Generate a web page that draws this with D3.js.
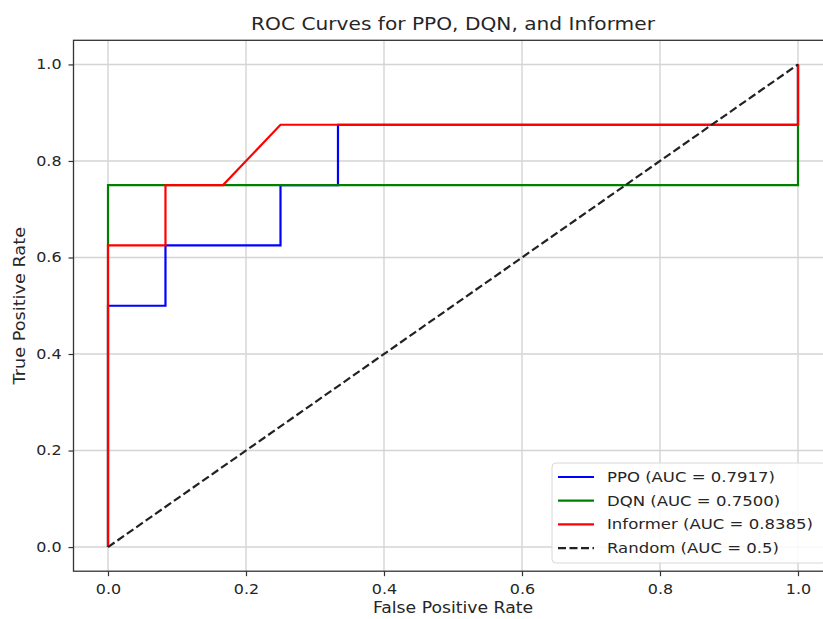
<!DOCTYPE html>
<html>
<head>
<meta charset="utf-8">
<script src="https://cdn.jsdelivr.net/npm/d3@7"></script>
<style>
  body { margin: 0; background: #fff; }
  text { font-family: "DejaVu Sans", sans-serif; fill: #262626; }
</style>
</head>
<body>
<svg id="chart" width="823" height="619"></svg>
<script>
// ROC points
const ppoFpr = [0, 0, 0.0833, 0.0833, 0.25, 0.25, 0.3333, 0.3333, 1, 1];
const ppoTpr = [0, 0.5, 0.5, 0.625, 0.625, 0.75, 0.75, 0.875, 0.875, 1];
const dqnFpr = [0, 0, 1, 1];
const dqnTpr = [0, 0.75, 0.75, 1];
const infFpr = [0, 0, 0.0833, 0.0833, 0.1667, 0.25, 1, 1];
const infTpr = [0, 0.625, 0.625, 0.75, 0.75, 0.875, 0.875, 1];
const randFpr = [0, 1];
const randTpr = [0, 1];

const seriesNames = ["PPO (AUC = 0.7917)", "DQN (AUC = 0.7500)", "Informer (AUC = 0.8385)", "Random (AUC = 0.5)"];
const seriesColors = ["#0000ff", "#008000", "#ff0000", "#222"];
const tickValues = [0, 0.2, 0.4, 0.6, 0.8, 1.0];

const svg = d3.select("#chart");
const sx = 1.18; // text in the picture is a bit wider than DejaVu

// matplotlib-style 5% margins
const x = d3.scaleLinear().domain([-0.05, 1.05]).range([73.5, 832.5]);
const y = d3.scaleLinear().domain([-0.05, 1.05]).range([571.2, 40.3]);

const pLeft = x(-0.05), pRight = x(1.05), pTop = y(1.05), pBottom = y(-0.05);

function addText(px, py, str, size, stretch, anchor, rot) {
    return svg.append("text")
        .attr("transform", "translate(" + px + "," + py + ")" + (rot ? " rotate(" + rot + ")" : "") + " scale(" + stretch + ",1)")
        .attr("text-anchor", anchor || "middle")
        .attr("font-size", size)
        .text(str);
}

// grid
const grid = svg.append("g");
grid.selectAll(".gx").data(tickValues).enter().append("line")
    .attr("x1", d => x(d)).attr("x2", d => x(d))
    .attr("y1", pTop).attr("y2", pBottom)
    .attr("stroke", "#d4d4d4").attr("stroke-width", 1.4);
grid.selectAll(".gy").data(tickValues).enter().append("line")
    .attr("y1", d => y(d)).attr("y2", d => y(d))
    .attr("x1", pLeft).attr("x2", pRight)
    .attr("stroke", "#d4d4d4").attr("stroke-width", 1.4);

// curves
const line = d3.line().x(d => x(d[0])).y(d => y(d[1]));
const curves = [
    [ppoFpr, ppoTpr],
    [dqnFpr, dqnTpr],
    [infFpr, infTpr],
    [randFpr, randTpr]
];
curves.forEach(function(c, i) {
    const pts = c[0].map((v, j) => [v, c[1][j]]);
    svg.append("path")
        .datum(pts)
        .attr("d", line)
        .attr("fill", "none")
        .attr("stroke", seriesColors[i])
        .attr("stroke-width", 2.2)
        .attr("stroke-dasharray", i === 3 ? "8,3.5" : null);
});

// spines
svg.append("rect")
    .attr("x", pLeft).attr("y", pTop)
    .attr("width", pRight - pLeft).attr("height", pBottom - pTop)
    .attr("fill", "none").attr("stroke", "#333").attr("stroke-width", 1.3);

// axes
const xAxis = svg.append("g")
    .attr("transform", "translate(0," + pBottom + ")")
    .call(d3.axisBottom(x).tickValues(tickValues).tickFormat(d3.format(".1f")).tickSize(5).tickPadding(8));
const yAxis = svg.append("g")
    .attr("transform", "translate(" + pLeft + ",0)")
    .call(d3.axisLeft(y).tickValues(tickValues).tickFormat(d3.format(".1f")).tickSize(5).tickPadding(7));
[xAxis, yAxis].forEach(function(a) {
    a.select(".domain").remove();
    a.selectAll(".tick line").attr("stroke", "#333").attr("stroke-width", 1.2);
    a.selectAll(".tick text").attr("font-size", 13.5).style("fill", "#262626")
        .attr("font-family", "DejaVu Sans, sans-serif")
        .attr("transform", "scale(" + sx + ",1)");
});
yAxis.selectAll(".tick text").attr("x", -12 / sx);

// labels
addText((pLeft + pRight) / 2, 30, "ROC Curves for PPO, DQN, and Informer", 18, 1.12);
addText((pLeft + pRight) / 2, 613, "False Positive Rate", 15, 1.15);
addText(25, (pTop + pBottom) / 2, "True Positive Rate", 15, 1.18, "middle", -90);

// legend
const legend = svg.append("g").attr("transform", "translate(552,463)");
legend.append("rect")
    .attr("width", 274).attr("height", 100).attr("rx", 4)
    .attr("fill", "#fff").attr("fill-opacity", 0.85)
    .attr("stroke", "#d8d8d8").attr("stroke-width", 1);
seriesNames.forEach(function(name, i) {
    const ly = 14 + i * 23.7;
    legend.append("line")
        .attr("x1", 6).attr("x2", 42).attr("y1", ly).attr("y2", ly)
        .attr("stroke", seriesColors[i]).attr("stroke-width", 2.2)
        .attr("stroke-dasharray", i === 3 ? "8,3.5" : null);
    legend.append("text")
        .attr("transform", "translate(55," + (ly + 5) + ") scale(" + sx + ",1)")
        .attr("font-size", 14)
        .text(name);
});
</script>
</body>
</html>
